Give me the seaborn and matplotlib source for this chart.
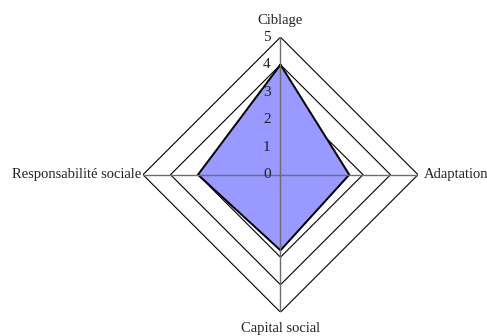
import numpy as np
import pandas as pd
import seaborn as sns
import matplotlib
matplotlib.use("Agg")
import matplotlib.pyplot as plt
from matplotlib.transforms import offset_copy

# --- data ---
categories = ["Ciblage", "Adaptation", "Capital social", "Responsabilité sociale"]
scores = [4.0, 2.5, 2.75, 3.0]
r_ticks = [0, 1, 2, 3, 4, 5]

sns.set_style("white")
plt.rcParams['font.family'] = ['Liberation Serif', 'DejaVu Serif']

fig = plt.figure(figsize=(4.87, 3.36), dpi=100)
# square polar axes, center ~ (280, 175) px, radius ~137 px
ax = fig.add_axes([0.2936, 0.0708, 0.5647, 0.8185], projection='polar')
ax.set_theta_zero_location('N')
ax.set_theta_direction(-1)

n = len(categories)
angles = np.linspace(0, 2 * np.pi, n, endpoint=False)
ang_closed = np.append(angles, angles[0])

# diamond grid (straight lines between spokes)
for r in r_ticks[1:]:
    ax.plot(ang_closed, [r] * (n + 1), color='black', lw=0.8, zorder=1)

# data polygon
df = pd.DataFrame({"theta": ang_closed, "r": scores + [scores[0]]})
ax.fill(df["theta"], df["r"], color='#9999ff', alpha=1.0, zorder=2)
sns.lineplot(data=df, x="theta", y="r", sort=False, estimator=None,
             color='black', lw=1.4, ax=ax, zorder=3)

# spokes on top
for a in angles:
    ax.plot([a, a], [0, r_ticks[-1]], color='#6e6e6e', lw=1.0, zorder=4)

ax.set_ylim(0, r_ticks[-1])
ax.grid(False)
ax.spines['polar'].set_visible(False)
ax.set_xticks([])
ax.set_yticks([])
ax.set_xlabel("")
ax.set_ylabel("")
ax.patch.set_alpha(0)

# radial tick labels along the top spoke
tr_lab = offset_copy(ax.transData, fig=fig, x=-7, y=0, units='points')
for r in r_ticks:
    ax.text(0, r, str(r), ha='right', va='center', fontsize=11,
            color='#222222', transform=tr_lab, zorder=5)

# category labels
offsets = [(0, 12), (4, 0), (0, -12), (-1.5, 0)]
aligns = [('center', 'center'), ('left', 'center'), ('center', 'center'), ('right', 'center')]
for a, lab, (dx, dy), (ha, va) in zip(angles, categories, offsets, aligns):
    tr = offset_copy(ax.transData, fig=fig, x=dx, y=dy, units='points')
    ax.text(a, r_ticks[-1], lab, ha=ha, va=va, fontsize=10.5,
            color='#222222', transform=tr)

fig.savefig("out.png", dpi=100)
